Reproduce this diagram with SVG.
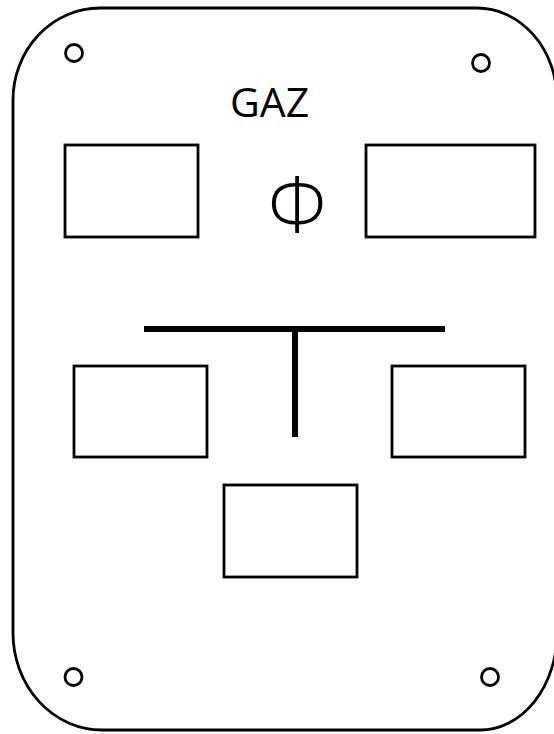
<svg xmlns="http://www.w3.org/2000/svg" width="554" height="734" viewBox="0 0 554 734">
<style>
.o{fill:none;stroke:#000;stroke-width:2.8}
.b{fill:#fff;stroke:#000;stroke-width:2.8}
.t{font-family:"Open Sans","Liberation Sans",sans-serif;fill:#000}
.bar{stroke:#000;stroke-width:6;fill:none}
</style>
<rect width="554" height="734" fill="#fff"/>
<g id="plate">
<path class="o" d="M100,8 L477,8 A80,92 0 0 1 557,100 L557,633 A77,97 0 0 1 480,730 L102,730 A89,97 0 0 1 13,633 L13,100 A87,92 0 0 1 100,8 Z"/>
</g>
<g id="holes">
<circle class="o" cx="74" cy="53" r="8.5"/>
<circle class="o" cx="481" cy="63" r="8.5"/>
<circle class="o" cx="73.5" cy="677" r="8.5"/>
<circle class="o" cx="490" cy="677" r="8.5"/>
</g>
<g id="label-gaz"><text class="t" x="269.5" y="117" font-size="41" text-anchor="middle">GAZ</text></g>
<g id="label-phi"><text class="t" x="297" y="232" font-size="77" font-weight="300" text-anchor="middle">Φ</text></g>
<g id="box-top-left"><rect class="b" x="65" y="145" width="133" height="92"/></g>
<g id="box-top-right"><rect class="b" x="366" y="145" width="169" height="92"/></g>
<g id="box-mid-left"><rect class="b" x="74" y="366" width="133" height="91"/></g>
<g id="box-mid-right"><rect class="b" x="392" y="366" width="133" height="91"/></g>
<g id="box-bottom"><rect class="b" x="224" y="485" width="133" height="92"/></g>
<g id="connectors">
<line class="bar" x1="144" y1="329" x2="445" y2="329"/>
<line class="bar" x1="295" y1="329" x2="295" y2="437"/>
</g>
</svg>
